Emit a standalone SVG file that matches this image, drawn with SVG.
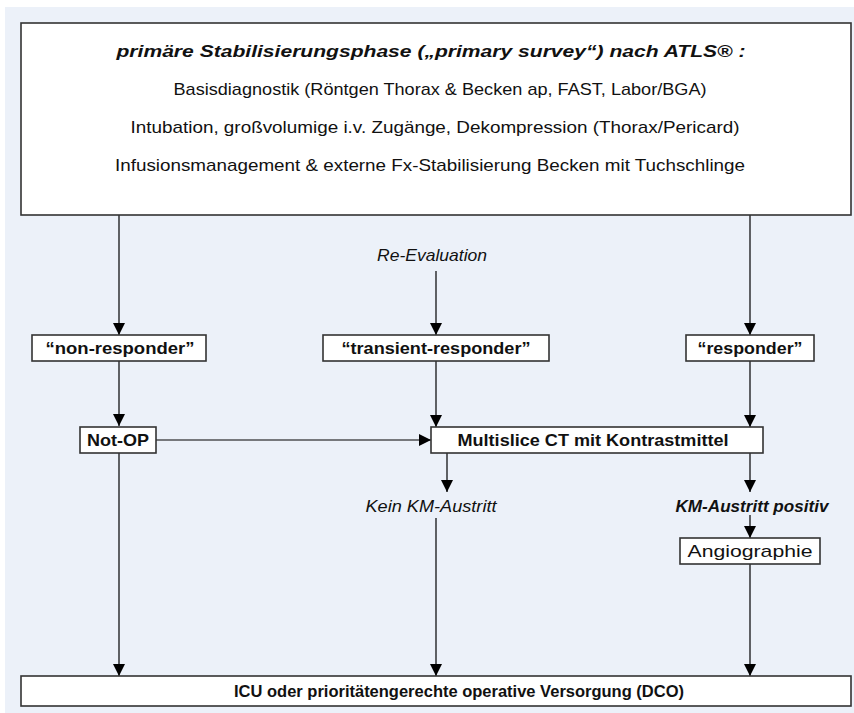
<svg xmlns="http://www.w3.org/2000/svg" width="854" height="713" viewBox="0 0 854 713">
<style>
.box{fill:#fff;stroke:#333;stroke-width:1.6}
.ln{stroke:#000;stroke-width:1.2;fill:none}
text{font-family:"Liberation Sans","Open Sans",Arial,sans-serif;fill:#111;text-anchor:middle}
.reg{font-size:17px}
.b{font-size:16.5px;font-weight:bold}
.it{font-size:17px;font-style:italic}
.bi{font-size:17px;font-style:italic;font-weight:bold}
</style>
<defs>
<marker id="ah" markerUnits="userSpaceOnUse" markerWidth="12" markerHeight="12" refX="12" refY="6" orient="auto">
<path d="M0,0 L12,6 L0,12 z" fill="#000"/>
</marker>
</defs>
<rect x="5" y="7" width="849" height="706" fill="#ECF1F9"/>

<g id="connectors">
<line class="ln" x1="119" y1="215" x2="119" y2="335" marker-end="url(#ah)"/>
<line class="ln" x1="436" y1="271" x2="436" y2="335" marker-end="url(#ah)"/>
<line class="ln" x1="750" y1="215" x2="750" y2="335" marker-end="url(#ah)"/>
<line class="ln" x1="119" y1="361" x2="119" y2="426" marker-end="url(#ah)"/>
<line class="ln" x1="436" y1="361" x2="436" y2="427" marker-end="url(#ah)"/>
<line class="ln" x1="750" y1="361" x2="750" y2="427" marker-end="url(#ah)"/>
<line class="ln" x1="156" y1="440" x2="431" y2="440" marker-end="url(#ah)"/>
<line class="ln" x1="447" y1="453" x2="447" y2="492" marker-end="url(#ah)"/>
<line class="ln" x1="750" y1="453" x2="750" y2="492" marker-end="url(#ah)"/>
<line class="ln" x1="750" y1="515" x2="750" y2="538" marker-end="url(#ah)"/>
<line class="ln" x1="119" y1="453" x2="119" y2="676" marker-end="url(#ah)"/>
<line class="ln" x1="436" y1="518" x2="436" y2="676" marker-end="url(#ah)"/>
<line class="ln" x1="750" y1="564" x2="750" y2="676" marker-end="url(#ah)"/>
</g>

<g id="top">
<rect class="box" x="21" y="23" width="830" height="192"/>
<text class="bi" x="431" y="57" textLength="629" lengthAdjust="spacingAndGlyphs">primäre Stabilisierungsphase („primary survey“) nach ATLS® :</text>
<text class="reg" x="440" y="95" textLength="533" lengthAdjust="spacingAndGlyphs">Basisdiagnostik (Röntgen Thorax &amp; Becken ap, FAST, Labor/BGA)</text>
<text class="reg" x="435" y="133" textLength="609" lengthAdjust="spacingAndGlyphs">Intubation, großvolumige i.v. Zugänge, Dekompression (Thorax/Pericard)</text>
<text class="reg" x="430" y="171" textLength="630" lengthAdjust="spacingAndGlyphs">Infusionsmanagement &amp; externe Fx-Stabilisierung Becken mit Tuchschlinge</text>
</g>

<g id="reeval">
<text class="it" x="432" y="261" textLength="110" lengthAdjust="spacingAndGlyphs">Re-Evaluation</text>
</g>

<g id="nonresponder">
<rect class="box" x="32" y="335" width="174" height="26"/>
<text class="b" x="120" y="354" textLength="149" lengthAdjust="spacingAndGlyphs">“non-responder”</text>
</g>

<g id="transient">
<rect class="box" x="323" y="335" width="226" height="26"/>
<text class="b" x="436" y="354" textLength="189" lengthAdjust="spacingAndGlyphs">“transient-responder”</text>
</g>

<g id="responder">
<rect class="box" x="686" y="335" width="128" height="26"/>
<text class="b" x="750" y="354" textLength="105" lengthAdjust="spacingAndGlyphs">“responder”</text>
</g>

<g id="notop">
<rect class="box" x="80" y="427" width="76" height="26"/>
<text class="b" x="118" y="446" textLength="62" lengthAdjust="spacingAndGlyphs">Not-OP</text>
</g>

<g id="ct">
<rect class="box" x="431" y="427" width="332" height="26"/>
<text class="b" x="593" y="446" textLength="271" lengthAdjust="spacingAndGlyphs">Multislice CT mit Kontrastmittel</text>
</g>

<g id="kein">
<text class="it" x="431" y="512" textLength="131" lengthAdjust="spacingAndGlyphs">Kein KM-Austritt</text>
</g>

<g id="positiv">
<text class="bi" x="752" y="512" textLength="153" lengthAdjust="spacingAndGlyphs">KM-Austritt positiv</text>
</g>

<g id="angio">
<rect class="box" x="680" y="538" width="140" height="26"/>
<text class="reg" x="750" y="557" textLength="125" lengthAdjust="spacingAndGlyphs">Angiographie</text>
</g>

<g id="icu">
<rect class="box" x="21" y="676" width="830" height="30"/>
<text class="b" x="459" y="697" textLength="450" lengthAdjust="spacingAndGlyphs">ICU oder prioritätengerechte operative Versorgung (DCO)</text>
</g>
</svg>
